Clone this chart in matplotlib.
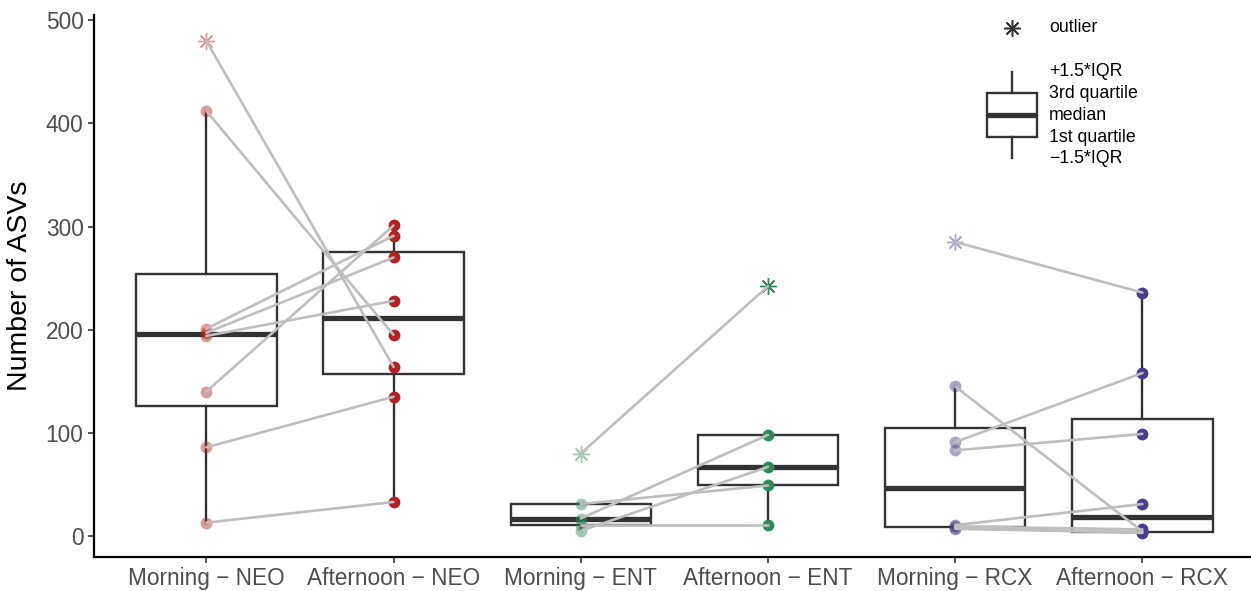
import numpy as np
import matplotlib
matplotlib.use("Agg")
import matplotlib.pyplot as plt
from matplotlib.lines import Line2D
from matplotlib.patches import Rectangle

plt.rcParams['font.family'] = ['Liberation Sans', 'DejaVu Sans']

categories = ["Morning \u2212 NEO", "Afternoon \u2212 NEO", "Morning \u2212 ENT",
              "Afternoon \u2212 ENT", "Morning \u2212 RCX", "Afternoon \u2212 RCX"]

# paired samples (same index = same subject)
neo_morning = [480, 412, 201, 197, 194, 140, 86, 13]
neo_afternoon = [164, 195, 291, 270, 228, 301, 135, 33]
ent_morning = [80, 31, 17, 11, 5]
ent_afternoon = [242, 49, 98, 11, 67]
rcx_morning = [285, 145, 91, 83, 10.6, 9.3, 8, 7]
rcx_afternoon = [236, 4.5, 158, 99, 31, 6.4, 3.0, 3.5]

groups = [neo_morning, neo_afternoon, ent_morning, ent_afternoon, rcx_morning, rcx_afternoon]
group_colors = ["#b22222", "#b22222", "#2e8b57", "#2e8b57", "#483d8b", "#483d8b"]
group_alpha = [0.45, 1.0, 0.45, 1.0, 0.45, 1.0]

W, H = 1251, 591
fig = plt.figure(figsize=(W / 100, H / 100), dpi=100)
ax_left, ax_right, ax_top, ax_bottom = 94, 1251, 15, 557
ax = fig.add_axes([ax_left / W, 1 - ax_bottom / H, (ax_right - ax_left) / W, (ax_bottom - ax_top) / H])

positions = np.arange(1, len(groups) + 1)
box_color = "#333333"
ax.boxplot(groups, positions=positions, widths=0.75, whis=1.5, showfliers=False,
           showcaps=False, patch_artist=True,
           boxprops=dict(facecolor="none", edgecolor=box_color, linewidth=1.7),
           whiskerprops=dict(color=box_color, linewidth=1.7),
           medianprops=dict(color=box_color, linewidth=3.8, solid_capstyle='butt'),
           zorder=2)

# points
for i, vals in enumerate(groups):
    v = np.asarray(vals, dtype=float)
    q1, q3 = np.percentile(v, [25, 75])
    iqr = q3 - q1
    out = (v > q3 + 1.5 * iqr) | (v < q1 - 1.5 * iqr)
    x = np.full(len(v), positions[i], dtype=float)
    ax.plot(x[~out], v[~out], 'o', ms=8.5, mfc=group_colors[i], mec='none',
            alpha=group_alpha[i], zorder=3)
    ax.plot(x[out], v[out], ls='none', marker=(8, 2, 0), ms=12, mew=1.0,
            mec=group_colors[i], alpha=group_alpha[i], zorder=3)

# pair lines
for m_idx, a_idx in [(0, 1), (2, 3), (4, 5)]:
    for mv, av in zip(groups[m_idx], groups[a_idx]):
        ax.plot([positions[m_idx], positions[a_idx]], [mv, av], color="#bebebe",
                lw=1.9, solid_capstyle='round', zorder=4)

ax.set_xlim(0.4, 0.4 + (ax_right - ax_left) / 187.2)
ax.set_ylim(-20.3, 505)
ax.set_xticks(positions)
ax.set_xticklabels(categories)
ax.set_yticks([0, 100, 200, 300, 400, 500])
for s in ["top", "right"]:
    ax.spines[s].set_visible(False)
for s in ["left", "bottom"]:
    ax.spines[s].set_linewidth(1.6)
    ax.spines[s].set_color("black")
ax.tick_params(axis='both', length=4.5, width=1.2, color="#333333",
               labelcolor="#4d4d4d", labelsize=16.3, pad=3)
ax.set_ylabel("Number of ASVs", fontsize=20.5, color="black", labelpad=9)
ax.patch.set_visible(False)

# custom legend (figure pixel coordinates)
def fx(px):
    return px / W

def fy(py):
    return 1 - py / H

fig.add_artist(Line2D([fx(1012)], [fy(28)], ls='none', marker=(8, 2, 0), ms=12,
                      mew=1.1, mec=box_color))
fig.text(fx(1049), fy(28), "outlier", fontsize=12.8, va='center', ha='left', color="black")
fig.add_artist(Rectangle((fx(987), fy(137)), fx(1037) - fx(987), fy(93) - fy(137),
                         transform=fig.transFigure, fill=False, ec=box_color, lw=1.7))
fig.add_artist(Line2D([fx(1012), fx(1012)], [fy(72), fy(93)], color=box_color, lw=1.7))
fig.add_artist(Line2D([fx(1012), fx(1012)], [fy(137), fy(158)], color=box_color, lw=1.7))
fig.add_artist(Line2D([fx(987), fx(1037)], [fy(115), fy(115)], color=box_color, lw=3.8,
                      solid_capstyle='butt'))
legend_labels = ["+1.5*IQR", "3rd quartile", "median", "1st quartile", "\u22121.5*IQR"]
for lbl, py in zip(legend_labels, [72, 93, 115, 137, 158]):
    fig.text(fx(1049), fy(py), lbl, fontsize=12.8, va='center', ha='left', color="black")

fig.savefig("out.png", dpi=100)
